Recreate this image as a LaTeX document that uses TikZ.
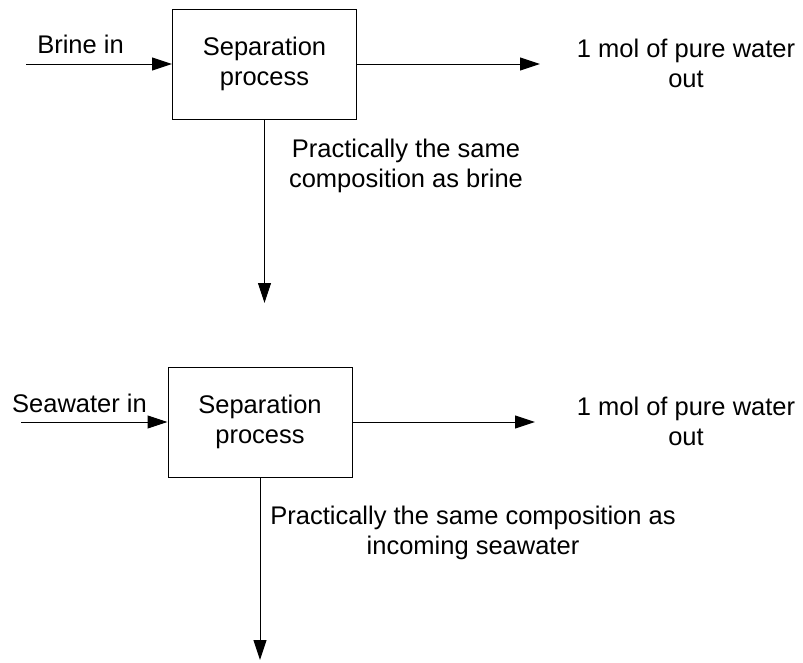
\documentclass[tikz,border=0pt]{standalone}
\usepackage{fontspec}
\setmainfont{Liberation Sans}
\usetikzlibrary{arrows.meta,positioning}
\begin{document}
\begin{tikzpicture}[x=1pt, y=-1pt, line width=1pt,
		flow/.style = {-{Triangle[length=20pt,width=13pt]}},
		proc/.style = {draw, minimum width=184pt, minimum height=110pt, align=center, inner sep=0pt},
		lbl/.style = {align=center, inner sep=0pt}]
	\useasboundingbox (0,0) rectangle (803,662);
	\fontsize{25.5}{30}\selectfont
	
	% upper stage
	\node[proc] (sepA) at (264.5,64) {Separation\\process};
	\coordinate (inA) at (26,64);
	\coordinate (outA) at (540,64);
	\coordinate (downA) at (264.5,303);
	\node[lbl, anchor=base] (brine) at (80.5,53) {Brine in};
	\node[lbl] (waterA) at (686,63.7) {1 mol of pure water\\out};
	\node[lbl] (restA) at (406,166) {Practically the same\\composition as brine};
	
	% lower stage
	\node[proc] (sepB) at (260,422) {Separation\\process};
	\coordinate (inB) at (21,422);
	\coordinate (outB) at (535,422);
	\coordinate (downB) at (260,660);
	\node[lbl, anchor=base] (sea) at (79.5,412) {Seawater in};
	\node[lbl] (waterB) at (686,421.7) {1 mol of pure water\\out};
	\node[lbl] (restB) at (473,532.4) {Practically the same composition as\\incoming seawater};
	
	\draw[flow] (inA) -- (sepA);
	\draw[flow] (sepA) -- (outA);
	\draw[flow] (sepA) -- (downA);
	
	\draw[flow] (inB) -- (sepB);
	\draw[flow] (sepB) -- (outB);
	\draw[flow] (sepB) -- (downB);
\end{tikzpicture}
\end{document}
